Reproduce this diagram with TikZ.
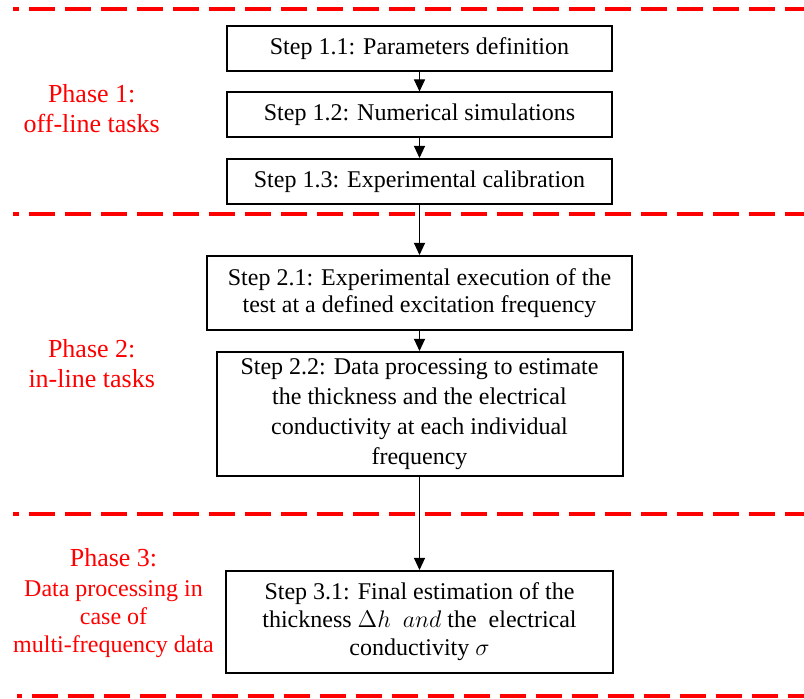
\documentclass[tikz,border=0pt]{standalone}
\usepackage{fontspec}
\setmainfont{Liberation Serif}
\usepackage{tikz}
\usetikzlibrary{arrows.meta,positioning}
\definecolor{phasered}{HTML}{FF0000}
\tikzset{
  stepbox/.style  = {draw=black, line width=1pt, fill=white, align=center,
                     inner sep=0pt, minimum width=192.5pt, minimum height=22.5pt,
                     font=\fontsize{12}{14}\selectfont},
  phaselbl/.style = {text=phasered, align=center, inner sep=0pt,
                     font=\fontsize{13}{15}\selectfont},
  sepline/.style  = {draw=phasered, line width=2pt,
                     dash pattern=on 13pt off 5pt, dash phase=10pt},
  ar/.style       = {-{Triangle[length=6pt,width=5.5pt]}, line width=0.5pt},
}

\begin{document}
\begin{tikzpicture}[x=0.5pt, y=0.5pt]
  \useasboundingbox (0,0) rectangle (804,-699);
  % phase separators
  \draw[sepline] (13,-9.3) -- (804,-9.3);
  \draw[sepline] (13,-214) -- (804,-214);
  \draw[sepline] (13,-513.8) -- (804,-513.8);
  \draw[sepline, dash phase=10.5pt] (16.7,-696.3) -- (804,-696.3);
  % steps
  \node[stepbox] (s11) at (419.5,-48.5) {Step 1.1: Parameters definition};
  \node[stepbox, below=9.75pt of s11] (s12) {Step 1.2: Numerical simulations};
  \node[stepbox, below=9.75pt of s12] (s13) {Step 1.3: Experimental calibration};
  \node[stepbox, below=25pt of s13, minimum width=212.5pt, minimum height=37pt,
        font=\fontsize{12}{13.5}\selectfont] (s21)
        {Step 2.1: Experimental execution of the\\test at a defined excitation frequency};
  \node[stepbox, below=10pt of s21, minimum width=203pt, minimum height=62pt,
        font=\fontsize{12}{15}\selectfont] (s22)
        {Step 2.2: Data processing to estimate\\the thickness and the electrical\\conductivity at each individual\\frequency};
  \node[stepbox, below=46.5pt of s22, minimum width=193.5pt, minimum height=51pt] (s31)
        {Step 3.1: Final estimation of the\\thickness $\Delta h$\ \ $and$ the\ \ electrical\\conductivity $\sigma$};
  \draw[ar] (s11)--(s12); \draw[ar] (s12)--(s13); \draw[ar] (s13)--(s21);
  \draw[ar] (s21)--(s22); \draw[ar] (s22)--(s31);
  % phase labels
  \node[phaselbl] (ph1) at (91.7,-109) {Phase 1:\\off-line tasks};
  \node[phaselbl] (ph2) at (91.7,-363.5) {Phase 2:\\in-line tasks};
  \node[phaselbl, font=\fontsize{12}{14}\selectfont] (ph3) at (113.5,-603)
        {{\fontsize{13}{15}\selectfont Phase 3:}\\[1.4pt]Data processing in\\case of\\multi-frequency data};
\end{tikzpicture}
\end{document}
